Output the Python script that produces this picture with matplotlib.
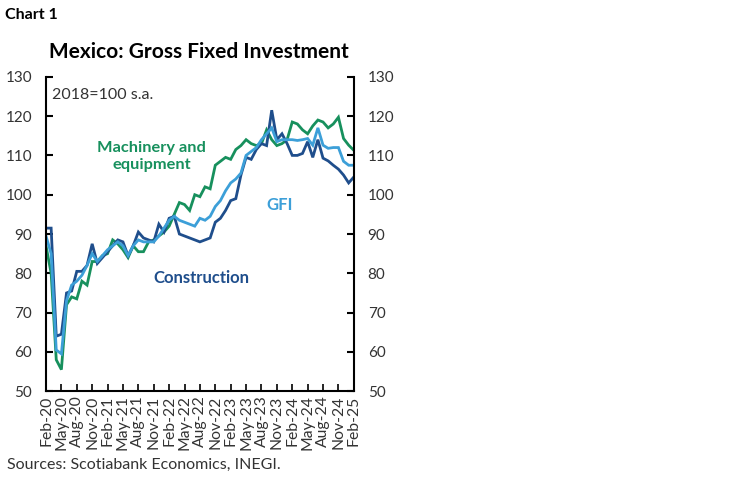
import matplotlib
matplotlib.use("Agg")
import matplotlib.pyplot as plt

plt.rcParams['font.family'] = ['Lato', 'DejaVu Sans']

# monthly index values, Feb-20 .. Feb-25 (2018=100, s.a.)
construction = [91.5, 91.5, 64, 64.5, 75, 75.5, 80.5, 80.5, 82, 87.5,
                82.5, 84, 85.5, 87, 88.5, 88, 84.5, 87, 90.5, 89,
                88.5, 88, 92.5, 90.5, 94, 94.5, 90, 89.5, 89, 88.5,
                88, 88.5, 89, 93, 94, 96, 98.5, 99, 105, 109.5,
                109, 111.5, 113, 112.5, 121.5, 114, 115.5, 113, 110, 110,
                110.5, 113.5, 109.5, 114, 109.3, 108.6, 107.5, 106.5, 105, 103,
                104.5]
gfi = [89.5, 85, 60.5, 59.5, 73, 77, 78, 79.5, 82, 85,
       83, 84.5, 86, 87, 88, 87, 84.5, 87, 88.5, 88,
       88, 88, 89.5, 91.5, 93.5, 94.5, 93.5, 93, 92.5, 92,
       94, 93.5, 94.5, 97, 98.5, 101, 103, 104, 105.5, 110,
       111, 112, 114, 115.5, 117, 113.5, 114, 114, 114, 113.8,
       114, 114.3, 112.6, 117, 112.6, 111.8, 112, 112, 108.5, 107.5,
       107.5]
machinery = [87, 80, 58, 55.5, 72, 74, 73.5, 78, 77, 83,
             83, 84.5, 85, 88.5, 87.5, 86, 84, 87, 85.5, 85.5,
             88, 88.5, 89.5, 90.5, 92, 95, 98, 97.5, 96, 100,
             99.5, 102, 101.5, 107.5, 108.5, 109.5, 109, 111.5, 112.5, 114,
             113, 112.5, 113, 116.5, 114, 112.5, 113, 114, 118.5, 118,
             116.5, 115.5, 117.5, 119, 118.5, 117, 118, 119.7, 114.3, 112.6,
             111.3]

tick_labels = ["Feb-20", "May-20", "Aug-20", "Nov-20", "Feb-21", "May-21", "Aug-21",
               "Nov-21", "Feb-22", "May-22", "Aug-22", "Nov-22", "Feb-23", "May-23",
               "Aug-23", "Nov-23", "Feb-24", "May-24", "Aug-24", "Nov-24", "Feb-25"]

C_CONS = '#1f4e8c'
C_GFI = '#3c9fd8'
C_MACH = '#17905d'
TXT = '#333333'

months = list(range(len(gfi)))

fig = plt.figure(figsize=(7.48, 4.83), dpi=100)
ax = fig.add_axes([0.0615, 0.19, 0.4115, 0.651])

ax.plot(months, machinery, color=C_MACH, lw=2.0, solid_joinstyle='miter')
ax.plot(months, construction, color=C_CONS, lw=2.0, solid_joinstyle='miter')
ax.plot(months, gfi, color=C_GFI, lw=2.0, solid_joinstyle='miter')

ax.set_xlim(0, 60)
ax.set_ylim(50, 130)
ax.set_yticks(range(50, 131, 10))
ax.set_xticks(months[::3])
ax.set_xticklabels(tick_labels, rotation=90, fontsize=11.3, color=TXT)

ax.spines['top'].set_visible(False)
for s in ['left', 'right', 'bottom']:
    ax.spines[s].set_linewidth(1.5)
    ax.spines[s].set_color('black')

ax.tick_params(axis='y', direction='in', length=5, width=1.5, labelsize=11,
               labelcolor=TXT, left=True, right=True, labelleft=True, labelright=True, pad=10)
ax.tick_params(axis='x', direction='in', length=5, width=1.2, pad=3)

ax.text(0.02, 0.965, "2018=100 s.a.", transform=ax.transAxes, fontsize=11.5,
        color=TXT, va='top', ha='left')
ax.text(20.6, 109.8, "Machinery and\nequipment", color=C_MACH, fontsize=11.8,
        fontweight='bold', ha='center', va='center', linespacing=1.25)
ax.text(45.6, 97.4, "GFI", color=C_GFI, fontsize=12, fontweight='bold',
        ha='center', va='center')
ax.text(30.2, 78.8, "Construction", color=C_CONS, fontsize=12, fontweight='bold',
        ha='center', va='center')

fig.text(0.266, 0.892, "Mexico: Gross Fixed Investment", fontsize=15, fontweight='bold',
         ha='center', va='center', color='black')
fig.text(0.007, 0.968, "Chart 1", fontsize=11.5, fontweight='bold', ha='left',
         va='center', color='black')
fig.text(0.01, 0.037, "Sources: Scotiabank Economics, INEGI.", fontsize=11.5,
         ha='left', va='center', color=TXT)

fig.savefig("out.png", dpi=100)
